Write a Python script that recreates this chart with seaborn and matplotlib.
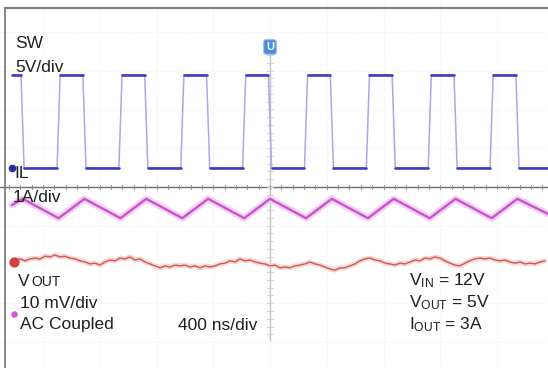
import numpy as np
import pandas as pd
import matplotlib
matplotlib.use("Agg")
import matplotlib.pyplot as plt
import seaborn as sns

sns.set_theme(style="white")
plt.rcParams["font.family"] = ["Liberation Sans", "DejaVu Sans"]
plt.rcParams["mathtext.fontset"] = "custom"
plt.rcParams["mathtext.rm"] = "Liberation Sans"
plt.rcParams["mathtext.it"] = "Liberation Sans:italic"

# ---------------- data ----------------
time_div_ns = 400            # 400 ns/div
sw_v_per_div = 5             # SW 5 V/div
il_a_per_div = 1             # IL 1 A/div
vout_mv_per_div = 10         # VOUT 10 mV/div (AC coupled)

# channel ground positions (divisions from screen centre)
sw_gnd_div = 0.49
il_gnd_div = -3.555
vout_gnd_div = -1.935

# SW node
sw_start_ns, sw_end_ns = -1818, 1959
sw_high_v, sw_low_v = 12.0, 0.0
sw_fall_ns = [-1744, -1308, -872, -436, 0, 436, 872, 1308, 1744]
sw_rise_ns = [-1490, -1054, -618, -182, 254, 690, 1126, 1562]

# inductor current (triangle breakpoints)
il_t_ns = [-1818, -1744, -1490, -1308, -1054, -872, -618, -436, -182, 0,
           254, 436, 690, 872, 1126, 1308, 1562, 1744, 1959]
il_a = [3.09, 3.25, 2.75, 3.25, 2.75, 3.25, 2.75, 3.25, 2.75, 3.25,
        2.75, 3.25, 2.75, 3.25, 2.75, 3.25, 2.75, 3.25, 2.86]

# output ripple (mV, AC coupled)
vout_t_start_ns, vout_t_end_ns = -1797, 1938
vout_mv = [0.3, 0.8, 0.3, 0.8, 1.0, 0.8, 1.5, 1.3, 1.8, 1.3, 1.5, 1.0, 0.8, 0.3,
           0.0, -0.5, -0.3, -0.8, 0.0, 0.5, 0.3, 1.0, 0.8, 1.3, 0.5, 0.8, 0.0,
           -0.5, -1.0, -1.5, -1.0, -1.3, -0.8, -1.0, -0.8, -1.3, -1.0, -1.5,
           -1.0, -1.3, -1.0, -0.5, -0.3, 0.3, 0.0, 0.8, 0.3, 0.5, 0.0, -0.3,
           -0.5, -1.0, -0.8, -1.5, -1.3, -1.5, -1.0, -0.8, -0.5, 0.0, -0.5,
           -0.8, -1.3, -1.8, -2.1, -1.5, -1.5, -1.0, -0.5, 0.3, 0.8, 1.0, 0.5,
           0.3, -0.3, -0.5, -0.8, -0.3, -0.5, 0.0, 0.5, 0.3, 1.0, 0.8, 1.3,
           1.0, 0.3, -0.3, -0.8, -1.0, -0.3, 0.3, 0.8, 1.0, 0.8, 1.0, 0.5,
           0.3, 0.5, 0.0, -0.3, 0.0, -0.5, -0.3, -0.5, 0.0, 0.3]

# ---------------- layout ----------------
W, H = 548, 368
PX_X = 56.75     # px per horizontal division
PX_Y = 38.75     # px per vertical division
CX, CY = 270, 187  # screen centre in px

fig = plt.figure(figsize=(W / 100, H / 100), dpi=100)
ax = fig.add_axes([0, 0, 1, 1])
ax.set_xlim(-CX / PX_X * time_div_ns, (W - CX) / PX_X * time_div_ns)
ax.set_ylim(-(H - CY) / PX_Y, CY / PX_Y)
ax.axis("off")

def fx(x):
    return x / W

def fy(y):
    return 1 - y / H

# faint graticule
for k in range(-5, 6):
    ax.axvline(k * time_div_ns, color="#efeff2", lw=0.8, ls=":", zorder=0)
for k in range(-4, 5):
    ax.axhline(k, color="#efeff2", lw=0.8, ls=":", zorder=0)

# centre lines with minor ticks
ax.axhline(0, color="#6e6e6e", lw=1.0, zorder=1)
ax.plot([0, 0], [-(340 - CY) / PX_Y, (CY - 52) / PX_Y], color="#c4c4c4", lw=1.0, zorder=1)
for t in np.arange(-4.8, 5.0, 0.2) * time_div_ns:
    ax.plot([t, t], [-0.06, 0.06], color="#8a8a8a", lw=0.7, zorder=1)
for v in np.arange(-3.8, 3.6, 0.2):
    ax.plot([-18, 18], [v, v], color="#d2d2d2", lw=0.7, zorder=1)

# ---- SW trace ----
edges = sorted([(t, "f") for t in sw_fall_ns] + [(t, "r") for t in sw_rise_ns])
tr = 22
pts = [(sw_start_ns, sw_high_v)]
level = sw_high_v
for t, kind in edges:
    new = sw_low_v if kind == "f" else sw_high_v
    pts.append((t - tr / 2, level))
    pts.append((t + tr / 2, new))
    level = new
pts.append((sw_end_ns, level))
sw_df = pd.DataFrame(pts, columns=["t", "v"])
sw_df["y"] = sw_df["v"] / sw_v_per_div + sw_gnd_div
sns.lineplot(data=sw_df, x="t", y="y", sort=False, estimator=None,
             color="#a9a9e6", lw=1.1, ax=ax, zorder=3)
flat = []
for i in range(0, len(pts) - 1, 2):
    (t0, v0), (t1, v1) = pts[i], pts[i + 1]
    flat.append((i, t0, v0))
    flat.append((i, t1, v1))
flat_df = pd.DataFrame(flat, columns=["seg", "t", "v"])
flat_df["y"] = flat_df["v"] / sw_v_per_div + sw_gnd_div
sns.lineplot(data=flat_df, x="t", y="y", units="seg", estimator=None, sort=False,
             color="#3c3cc8", lw=1.9, ax=ax, zorder=4)

# ---- IL trace ----
il_df = pd.DataFrame({"t": il_t_ns, "a": il_a})
il_df["y"] = il_df["a"] / il_a_per_div + il_gnd_div
sns.lineplot(data=il_df, x="t", y="y", sort=False, estimator=None,
             color="#f6d0f6", lw=5.0, ax=ax, zorder=3)
sns.lineplot(data=il_df, x="t", y="y", sort=False, estimator=None,
             color="#c456c9", lw=1.7, ax=ax, zorder=4)

# ---- VOUT trace ----
vo_df = pd.DataFrame({"t": np.linspace(vout_t_start_ns, vout_t_end_ns, len(vout_mv)),
                      "mv": vout_mv})
vo_df["y"] = vo_df["mv"] / vout_mv_per_div + vout_gnd_div
sns.lineplot(data=vo_df, x="t", y="y", sort=False, estimator=None,
             color="#f8d4d4", lw=3.5, ax=ax, zorder=3)
sns.lineplot(data=vo_df, x="t", y="y", sort=False, estimator=None,
             color="#cf5a55", lw=1.0, ax=ax, zorder=4)

# ---- frame ----
fig.add_artist(plt.Line2D([fx(5), fx(548)], [fy(8), fy(8)], color="#808080", lw=1.6))
fig.add_artist(plt.Line2D([fx(5), fx(5)], [fy(8), fy(368)], color="#808080", lw=1.3))

# ---- markers ----
fig.text(fx(270), fy(47), "U", color="white", fontsize=8, fontweight="bold",
         ha="center", va="center",
         bbox=dict(boxstyle="round,pad=0.2", fc="#4a8ad8", ec="#8fbcec", lw=0.8))
ax.scatter([fx(12)], [fy(168)], transform=fig.transFigure, s=30, color="#2b2b9e",
           zorder=6, linewidths=0)
ax.scatter([fx(14)], [fy(262)], transform=fig.transFigure, s=55, color="#d4443f",
           marker="o", zorder=6, linewidths=0)
ax.scatter([fx(14)], [fy(314)], transform=fig.transFigure, s=22, color="#d45ad4",
           marker="o", zorder=6, linewidths=0)

# ---- labels ----
fs = 12.5
tc = "#1e1e1e"
def lab(x, y, s, size=fs, **kw):
    fig.text(fx(x), fy(y), s, fontsize=size, color=tc, ha="left", va="center", **kw)

lab(15, 43, "SW")
lab(15, 67, "5V/div")
lab(14, 174, "IL")
lab(13, 197, "1A/div")
lab(18, 281, "V")
lab(31, 282, "OUT", size=10)
lab(20, 303, "10 mV/div")
lab(20, 325, "AC Coupled")
lab(178, 325, "400 ns/div")
lab(409, 281, r"V$_{\mathrm{IN}}$ = 12V")
lab(409, 303, r"V$_{\mathrm{OUT}}$ = 5V")
lab(409, 325, r"I$_{\mathrm{OUT}}$ = 3A")

fig.savefig("out.png", dpi=100, facecolor="white")
